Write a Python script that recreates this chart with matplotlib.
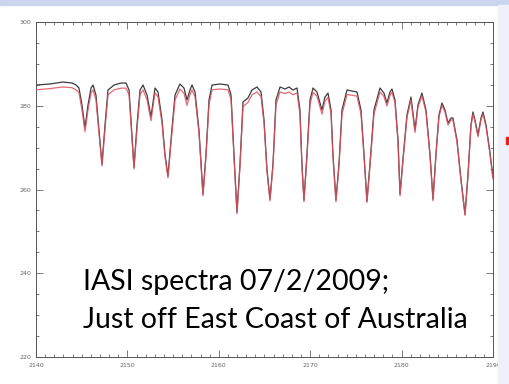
import matplotlib
matplotlib.use("Agg")
import matplotlib.pyplot as plt
from matplotlib.ticker import MultipleLocator
from matplotlib.patches import Rectangle

# wavenumber grid (cm-1)
wavenumber = [
  2140.00, 2141.53, 2142.95, 2143.94, 2144.38, 2144.70, 2145.03, 2145.36, 2145.69, 2146.02,
  2146.24, 2146.56, 2146.89, 2147.22, 2147.55, 2147.88, 2148.54, 2149.30, 2149.85, 2150.18,
  2150.39, 2150.72, 2151.05, 2151.38, 2151.71, 2152.15, 2152.58, 2153.02, 2153.35, 2153.79,
  2154.11, 2154.44, 2154.77, 2155.21, 2155.75, 2156.19, 2156.52, 2156.85, 2157.07, 2157.40,
  2157.83, 2158.27, 2158.60, 2158.93, 2159.26, 2160.13, 2161.01, 2161.34, 2161.66, 2161.99,
  2162.32, 2162.65, 2163.19, 2163.63, 2164.18, 2164.62, 2164.95, 2165.27, 2165.60, 2165.93,
  2166.26, 2166.70, 2167.24, 2167.68, 2168.12, 2168.56, 2168.88, 2169.10, 2169.32, 2169.65,
  2169.98, 2170.31, 2170.74, 2171.29, 2171.62, 2171.95, 2172.28, 2172.49, 2172.82, 2173.15,
  2173.48, 2174.03, 2174.57, 2175.12, 2175.56, 2175.89, 2176.21, 2176.54, 2176.98, 2177.64,
  2178.07, 2178.40, 2178.73, 2178.95, 2179.28, 2179.61, 2179.83, 2180.15, 2180.59, 2181.03,
  2181.47, 2181.79, 2182.23, 2182.67, 2183.11, 2183.44, 2183.76, 2184.09, 2184.42, 2184.75,
  2185.08, 2185.41, 2185.62, 2186.06, 2186.50, 2186.94, 2187.27, 2187.59, 2187.81, 2188.03,
  2188.36, 2188.69, 2188.91, 2189.24, 2189.67, 2190.00,
]

# brightness temperature (K), black curve
bt_black = [
  284.95, 285.19, 285.67, 285.43, 284.95, 284.24, 280.18, 274.69, 280.18, 284.24,
  284.95, 282.57, 274.21, 266.04, 275.40, 283.76, 284.95, 285.43, 285.43, 283.76,
  276.60, 265.33, 275.40, 283.76, 284.95, 282.57, 277.31, 284.24, 283.28, 276.60,
  268.43, 263.18, 271.82, 282.57, 285.19, 284.24, 281.37, 283.76, 284.95, 283.28,
  274.21, 258.88, 268.43, 281.37, 284.95, 285.19, 284.95, 282.57, 268.43, 254.58,
  266.04, 280.90, 281.85, 283.76, 284.48, 283.28, 276.60, 264.85, 257.69, 266.04,
  281.37, 284.48, 284.00, 284.48, 283.76, 284.24, 278.98, 266.04, 257.45, 268.43,
  281.37, 284.24, 283.28, 278.98, 282.09, 283.04, 278.98, 268.43, 257.45, 266.04,
  278.98, 283.76, 283.52, 283.28, 278.98, 268.43, 257.21, 266.04, 278.98, 284.24,
  283.04, 280.66, 283.28, 284.00, 281.37, 271.82, 258.88, 267.24, 277.79, 282.09,
  274.21, 280.18, 283.04, 278.98, 268.43, 257.69, 268.43, 277.79, 280.66, 278.98,
  275.88, 277.07, 277.07, 271.82, 262.46, 254.10, 263.66, 275.40, 278.51, 276.60,
  273.02, 277.07, 278.51, 275.40, 268.91, 262.94,
]

# brightness temperature (K), red curve
bt_red = [
  283.8, 284.1, 284.5, 284.3, 283.8, 283.1, 279.0, 273.8, 279.0, 283.0,
  283.8, 281.4, 273.4, 265.6, 274.5, 282.6, 283.8, 284.2, 284.2, 282.6,
  275.8, 264.9, 274.5, 282.6, 283.8, 281.4, 276.4, 283.1, 282.1, 275.8,
  267.9, 262.8, 271.1, 281.4, 284.0, 283.0, 280.1, 282.6, 283.8, 282.1,
  273.5, 258.5, 267.9, 280.2, 283.8, 284.0, 283.8, 281.4, 267.9, 254.2,
  265.6, 279.8, 280.8, 282.6, 283.3, 282.2, 275.8, 264.4, 257.3, 265.6,
  280.2, 283.3, 282.9, 283.3, 282.6, 283.1, 278.0, 265.6, 257.1, 267.9,
  280.3, 283.2, 282.3, 278.0, 281.1, 282.0, 278.0, 267.9, 257.1, 265.6,
  278.0, 282.7, 282.5, 282.3, 278.0, 267.9, 256.9, 265.6, 278.0, 283.3,
  282.2, 279.9, 282.5, 283.2, 280.7, 271.3, 258.5, 266.8, 277.2, 281.4,
  273.6, 279.6, 282.4, 278.5, 268.0, 257.3, 268.0, 277.3, 280.1, 278.5,
  275.4, 276.6, 276.6, 271.4, 262.1, 253.8, 263.3, 275.0, 278.0, 276.2,
  272.6, 276.6, 278.0, 275.0, 268.5, 262.5,
]

x_ticks = [2140, 2150, 2160, 2170, 2180, 2190]
y_ticks = [220, 240, 260, 280, 300]

caption = ["IASI spectra 07/2/2009;", "Just off East Coast of Australia"]

fig = plt.figure(figsize=(5.1, 3.84), dpi=100)

# slide decorations around the pasted plot
fig.patches.append(Rectangle((0, 0.988), 1, 0.012, transform=fig.transFigure,
                             color="#c9d6ee", zorder=0))
fig.patches.append(Rectangle((0.976, 0), 0.024, 0.988, transform=fig.transFigure,
                             color="#eef1f7", zorder=0))
fig.patches.append(Rectangle((0.992, 0.625), 0.006, 0.018, transform=fig.transFigure,
                             color="#e8201c", zorder=1))

ax = fig.add_axes([0.0706, 0.0703, 0.896, 0.8724])
ax.plot(wavenumber, bt_black, color="#3c3c3c", lw=0.9, zorder=2)
ax.plot(wavenumber, bt_red, color="#e0505e", lw=0.9, alpha=0.85, zorder=3)

ax.set_xlim(2140, 2190)
ax.set_ylim(220, 300)
ax.set_xticks(x_ticks)
ax.set_yticks(y_ticks)
ax.xaxis.set_minor_locator(MultipleLocator(1))
ax.yaxis.set_minor_locator(MultipleLocator(5))
ax.tick_params(which="both", direction="in", top=True, right=True,
               colors="#666666", labelsize=4.5, width=0.6)
ax.tick_params(which="major", length=5)
ax.tick_params(which="minor", length=2.5)
ax.tick_params(axis="x", pad=4)
for s in ax.spines.values():
  s.set_color("#555555")
  s.set_linewidth(0.7)

ax.text(0.102, 0.2, caption[0], transform=ax.transAxes, fontsize=20.5,
        family="Lato", color="black", va="baseline")
ax.text(0.102, 0.087, caption[1], transform=ax.transAxes, fontsize=20.5,
        family="Lato", color="black", va="baseline")

fig.savefig("out.png", dpi=100)
